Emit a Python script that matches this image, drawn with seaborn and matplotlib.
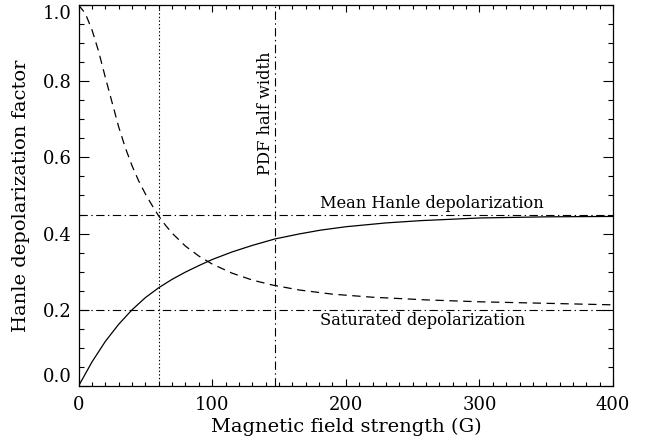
import matplotlib
matplotlib.use("Agg")
import matplotlib.pyplot as plt
import seaborn as sns
import pandas as pd

# ---- data ----
solid_x = [0, 10, 20, 30, 40, 50, 60, 70, 80, 90, 100, 115, 130, 147, 165, 181, 200, 230, 256, 300, 350, 400]
solid_y = [0.0, 0.063, 0.117, 0.162, 0.200, 0.232, 0.258, 0.280, 0.299, 0.316, 0.332, 0.352, 0.369, 0.386,
           0.399, 0.409, 0.418, 0.428, 0.434, 0.441, 0.444, 0.445]

dashed_x = [0, 5, 10, 15, 20, 25, 30, 35, 40, 45, 50, 55, 60, 65, 70, 80, 90, 100, 115, 130, 145, 165, 190,
            220, 260, 300, 350, 400]
dashed_y = [1.0, 0.978, 0.935, 0.878, 0.810, 0.745, 0.680, 0.625, 0.578, 0.538, 0.504, 0.474, 0.446, 0.422,
            0.401, 0.367, 0.341, 0.320, 0.296, 0.278, 0.265, 0.252, 0.241, 0.233, 0.226, 0.221, 0.217, 0.213]

mean_level = 0.45
saturated_level = 0.20
dotted_x = 60
pdf_half_width_x = 147

x_ticks = [0, 100, 200, 300, 400]
y_ticks = [0.0, 0.2, 0.4, 0.6, 0.8, 1.0]

sns.set_style("ticks", {"axes.edgecolor": "black", "text.color": "black", "axes.labelcolor": "black",
                        "xtick.color": "black", "ytick.color": "black"})
plt.rcParams['font.family'] = ['DejaVu Serif']
plt.rcParams['lines.scale_dashes'] = False

fig = plt.figure(figsize=(6.55, 4.43), dpi=100)
ax = fig.add_axes([0.120, 0.1287, 0.816, 0.860])

df_solid = pd.DataFrame({"B": solid_x, "f": solid_y})
df_dashed = pd.DataFrame({"B": dashed_x, "f": dashed_y})

sns.lineplot(data=df_solid, x="B", y="f", ax=ax, color="black", lw=0.9)
sns.lineplot(data=df_dashed, x="B", y="f", ax=ax, color="black", lw=0.9)
ax.lines[-1].set_dashes((6, 4))

dashdot = (6, 2.5, 1, 2.5)
for lev in (mean_level, saturated_level):
    ln, = ax.plot([0, 400], [lev, lev], color="black", lw=0.8)
    ln.set_dashes(dashdot)
ln, = ax.plot([pdf_half_width_x, pdf_half_width_x], [0, 1], color="black", lw=0.8)
ln.set_dashes(dashdot)
ln, = ax.plot([dotted_x, dotted_x], [0, 1], color="black", lw=0.8)
ln.set_dashes((1, 1.6))

ax.set_xlim(0, 400)
ax.set_ylim(0, 1)
ax.set_xticks(x_ticks)
ax.set_yticks(y_ticks)
ax.set_xticklabels([str(v) for v in x_ticks])
ax.set_yticklabels([f"{v:.1f}" for v in y_ticks])
ax.xaxis.set_minor_locator(matplotlib.ticker.MultipleLocator(10))
ax.yaxis.set_minor_locator(matplotlib.ticker.MultipleLocator(0.05))
ax.tick_params(axis="both", which="both", direction="in", top=True, right=True, width=0.8,
               labelsize=13, color="black", labelcolor="black")
ax.tick_params(axis="x", which="major", length=5, pad=7)
ax.tick_params(axis="x", which="minor", length=3)
ax.tick_params(axis="y", which="major", length=7, pad=5)
ax.tick_params(axis="y", which="minor", length=3.6)
for s in ax.spines.values():
    s.set_visible(True)
    s.set_linewidth(0.9)
    s.set_color("black")

# keep the edge labels inside, as in the reference
ylabels = ax.get_yticklabels()
ylabels[0].set_va("bottom")
ylabels[-1].set_va("top")

ax.set_xlabel("Magnetic field strength (G)", fontsize=14, labelpad=3, color="black")
ax.set_ylabel("Hanle depolarization factor", fontsize=14, labelpad=9, color="black")

ax.text(181, 0.467, "Mean Hanle depolarization", fontsize=11.7, ha="left", va="baseline", color="black")
ax.text(181, 0.16, "Saturated depolarization", fontsize=11.7, ha="left", va="baseline", color="black")
ax.text(pdf_half_width_x - 0.8, 0.553, "PDF half width", fontsize=11.7, rotation=90, ha="right",
        va="bottom", color="black")

fig.savefig("out.png", dpi=100)
